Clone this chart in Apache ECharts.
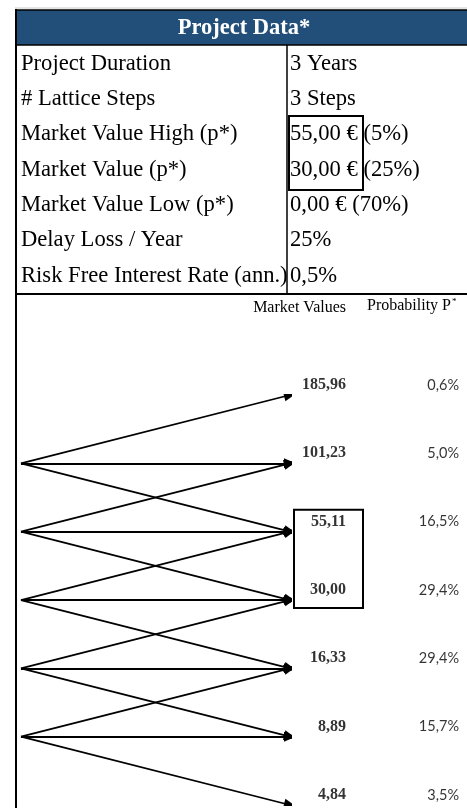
<!DOCTYPE html>
<html>
<head>
    <meta charset="utf-8">
    <title>Project Data</title>
    <script src="https://cdn.jsdelivr.net/npm/echarts@6/dist/echarts.min.js"></script>
    <style>
        html, body { margin: 0; padding: 0; background: #fff; }
        #chart1 { width: 467px; height: 808px; }
    </style>
</head>
<body>
<div id="chart1"></div>
<script type="text/javascript">
    // project data table
    var rowLabels = ['Project Duration', '# Lattice Steps', 'Market Value High (p*)', 'Market Value (p*)',
        'Market Value Low (p*)', 'Delay Loss / Year', 'Risk Free Interest Rate (ann.)'];
    var rowValues = ['3 Years', '3 Steps', '55,00 € (5%)', '30,00 € (25%)', '0,00 € (70%)', '25%', '0,5%'];

    // lattice, last step: market values and probability P* (%)
    var marketValues = [185.96, 101.23, 55.11, 30.00, 16.33, 8.89, 4.84];
    var probabilities = [0.6, 5.0, 16.5, 29.4, 29.4, 15.7, 3.5];
    // nodes of the step before, each one goes up / stays / goes down
    var fromNodes = [101.23, 55.11, 30.00, 16.33, 8.89];
    // values framed in the chart
    var boxedValues = [55.11, 30.00];

    var serif = '"Liberation Serif", "Times New Roman", serif';

    function fmtNum(v) { return v.toFixed(2).replace('.', ','); }
    function fmtPct(v) { return v.toFixed(1).replace('.', ',') + '%'; }

    // edges of the lattice
    var edges = [];
    fromNodes.forEach(function (v) {
        var i = marketValues.indexOf(v);
        [i - 1, i, i + 1].forEach(function (j) {
            edges.push({ coords: [[0, v], [1, marketValues[j]]] });
        });
    });

    var myChart = echarts.init(document.getElementById('chart1'));

    var option = {
        animation: false,
        grid: { left: 21, right: 177, top: 395, bottom: 3 },
        xAxis: { type: 'value', min: 0, max: 1, show: false },
        yAxis: { type: 'log', min: 4.84, max: 185.96, show: false },
        series: [
            {
                type: 'lines',
                coordinateSystem: 'cartesian2d',
                data: edges,
                symbol: ['none', 'triangle'],
                symbolSize: [1, [10, 12]],
                lineStyle: { color: '#000', width: 1.8, opacity: 1 },
                silent: true
            },
            {
                type: 'scatter',
                symbolSize: 1,
                itemStyle: { color: 'transparent' },
                data: marketValues.map(function (v) { return [1, v]; }),
                label: {
                    show: true,
                    position: 'inside',
                    align: 'right',
                    verticalAlign: 'middle',
                    offset: [56, -10],
                    formatter: function (p) { return fmtNum(p.value[1]); },
                    fontFamily: serif,
                    fontWeight: 'bold',
                    fontSize: 16,
                    color: '#000'
                },
                silent: true
            },
            {
                type: 'scatter',
                symbolSize: 1,
                itemStyle: { color: 'transparent' },
                data: marketValues.map(function (v) { return [1, v]; }),
                label: {
                    show: true,
                    position: 'inside',
                    align: 'right',
                    verticalAlign: 'middle',
                    offset: [169, -10],
                    formatter: function (p) { return fmtPct(probabilities[p.dataIndex]); },
                    fontFamily: 'Lato, "Open Sans", sans-serif',
                    fontSize: 14.5,
                    color: '#000'
                },
                silent: true
            }
        ]
    };
    myChart.setOption(option);

    // table and frames drawn around the lattice
    var g = [];
    g.push({ type: 'line', shape: { x1: 15, y1: 8, x2: 467, y2: 8 }, style: { stroke: '#c8c8c8', lineWidth: 1 } });
    g.push({ type: 'rect', shape: { x: 16, y: 10, width: 460, height: 35 },
        style: { fill: '#224f79', stroke: '#000', lineWidth: 1.5 } });
    g.push({ type: 'text', x: 244, y: 28,
        style: { text: 'Project Data*', fontFamily: serif, fontWeight: 'bold', fontSize: 22.5, fill: '#fff',
            align: 'center', verticalAlign: 'middle' } });
    g.push({ type: 'line', shape: { x1: 16, y1: 9, x2: 16, y2: 808 }, style: { stroke: '#000', lineWidth: 2 } });
    g.push({ type: 'line', shape: { x1: 287, y1: 45, x2: 287, y2: 294 }, style: { stroke: '#000', lineWidth: 1.5 } });
    g.push({ type: 'line', shape: { x1: 16, y1: 294, x2: 467, y2: 294 }, style: { stroke: '#000', lineWidth: 2 } });
    g.push({ type: 'rect', shape: { x: 289, y: 116, width: 74, height: 74 },
        style: { fill: null, stroke: '#000', lineWidth: 2 } });
    rowLabels.forEach(function (t, i) {
        var y = 63.8 + 35.35 * i;
        g.push({ type: 'text', x: 21, y: y,
            style: { text: t, fontFamily: serif, fontSize: 22.6, fill: '#000', align: 'left', verticalAlign: 'middle' } });
        g.push({ type: 'text', x: 290, y: y,
            style: { text: rowValues[i], fontFamily: serif, fontSize: 22.6, fill: '#000', align: 'left', verticalAlign: 'middle' } });
    });
    g.push({ type: 'text', x: 346, y: 308,
        style: { text: 'Market Values', fontFamily: serif, fontSize: 16, fill: '#000', align: 'right', verticalAlign: 'middle' } });
    g.push({ type: 'text', x: 367, y: 306,
        style: { text: '{a|Probability P}{s|*}', align: 'left', verticalAlign: 'middle',
            rich: {
                a: { fontFamily: serif, fontSize: 16, fill: '#000' },
                s: { fontFamily: serif, fontSize: 9, fill: '#000', verticalAlign: 'top', padding: [0, 0, 8, 1] }
            } } });

    var pTop = myChart.convertToPixel({ gridIndex: 0 }, [1, boxedValues[0]]);
    var pBot = myChart.convertToPixel({ gridIndex: 0 }, [1, boxedValues[1]]);
    g.push({ type: 'rect', shape: { x: pTop[0] + 4, y: pTop[1] - 22, width: 69, height: pBot[1] - pTop[1] + 30 },
        style: { fill: null, stroke: '#000', lineWidth: 2 } });

    myChart.setOption({ graphic: g });
</script>
</body>
</html>
